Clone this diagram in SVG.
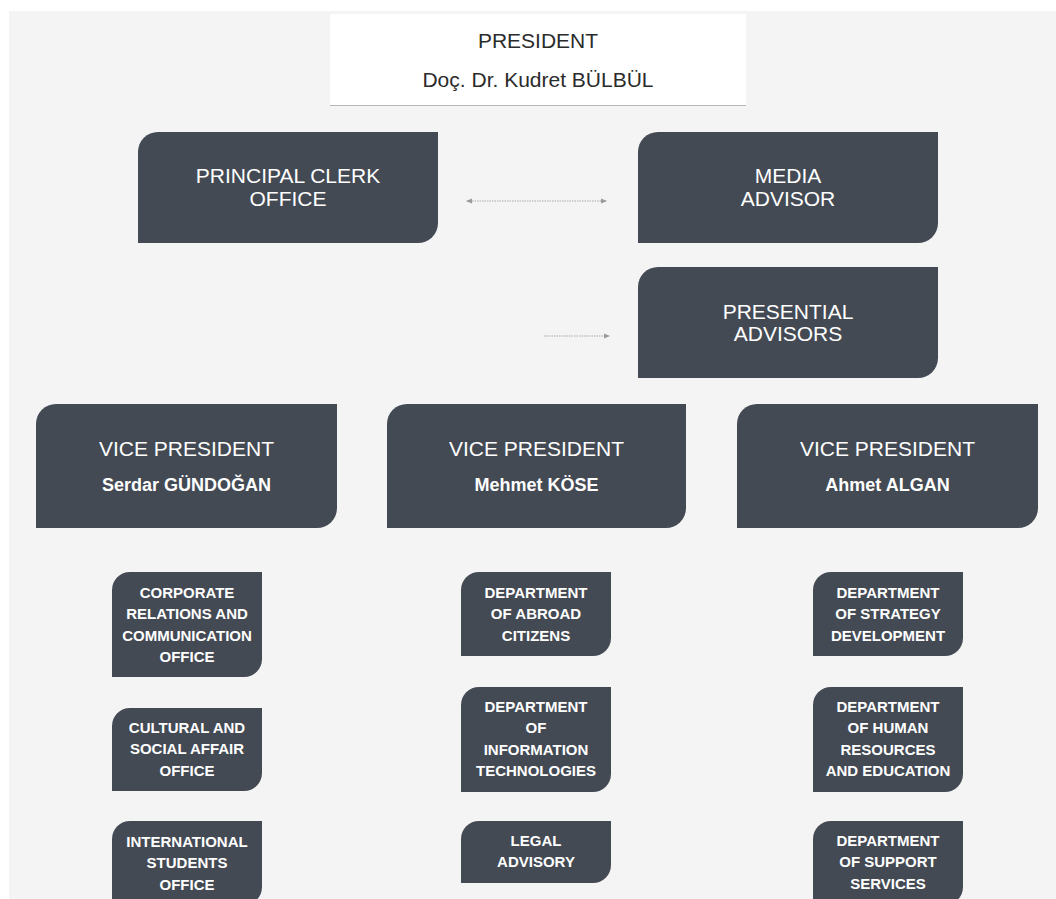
<svg xmlns="http://www.w3.org/2000/svg" width="1056" height="899" viewBox="0 0 1056 899">
<defs>
<marker id="ah" viewBox="0 0 6 6" refX="5" refY="3" markerWidth="6" markerHeight="6" markerUnits="userSpaceOnUse" orient="auto-start-reverse">
<path d="M0,0.5 L6,3 L0,5.5 Z" fill="#9a9a9a"/>
</marker>
<filter id="sh" x="-5%" y="-5%" width="110%" height="120%">
<feDropShadow dx="0" dy="1" stdDeviation="0.6" flood-color="#000" flood-opacity="0.25"/>
</filter>
</defs>
<style>
.box{fill:#434a54}
.big{font-family:"Liberation Sans",Arial,sans-serif;font-size:21px;fill:#ffffff;text-anchor:middle}
.name{font-family:"Liberation Sans",Arial,sans-serif;font-size:18px;font-weight:bold;fill:#ffffff;text-anchor:middle}
.sm{font-family:"Liberation Sans",Arial,sans-serif;font-size:15px;font-weight:bold;fill:#ffffff;text-anchor:middle}
.pres{font-family:"Liberation Sans",Arial,sans-serif;font-size:21px;fill:#2b2b2b;text-anchor:middle}
.conn{stroke:#a8a8a8;stroke-width:1.2;stroke-dasharray:1.5 1;fill:none}
</style>
<rect x="0" y="0" width="1056" height="899" fill="#ffffff"/>
<rect x="9" y="11" width="1047" height="888" fill="#f4f4f4"/>

<g id="president">
<rect x="330" y="14" width="416" height="91" fill="#ffffff" filter="url(#sh)"/>
<text class="pres" x="538" y="48">PRESIDENT</text>
<text class="pres" x="538" y="87">Doç. Dr. Kudret BÜLBÜL</text>
</g>

<g id="connectors">
<line class="conn" x1="467" y1="201" x2="606" y2="201" marker-start="url(#ah)" marker-end="url(#ah)"/>
<line class="conn" x1="544" y1="336" x2="609" y2="336" marker-end="url(#ah)"/>
</g>

<g id="principal-clerk">
<path class="box" d="M158,132 H438 V223 A20,20 0 0 1 418,243 H138 V152 A20,20 0 0 1 158,132 Z"/>
<text class="big" x="288" y="183">PRINCIPAL CLERK</text>
<text class="big" x="288" y="206">OFFICE</text>
</g>

<g id="media-advisor">
<path class="box" d="M658,132 H938 V223 A20,20 0 0 1 918,243 H638 V152 A20,20 0 0 1 658,132 Z"/>
<text class="big" x="788" y="183">MEDIA</text>
<text class="big" x="788" y="206">ADVISOR</text>
</g>

<g id="presential-advisors">
<path class="box" d="M658,267 H938 V358 A20,20 0 0 1 918,378 H638 V287 A20,20 0 0 1 658,267 Z"/>
<text class="big" x="788" y="319">PRESENTIAL</text>
<text class="big" x="788" y="341">ADVISORS</text>
</g>

<g id="vp-1">
<path class="box" d="M56,404 H337 V508 A20,20 0 0 1 317,528 H36 V424 A20,20 0 0 1 56,404 Z"/>
<text class="big" x="186.5" y="456">VICE PRESIDENT</text>
<text class="name" x="186.5" y="491">Serdar GÜNDOĞAN</text>
</g>

<g id="vp-2">
<path class="box" d="M407,404 H686 V508 A20,20 0 0 1 666,528 H387 V424 A20,20 0 0 1 407,404 Z"/>
<text class="big" x="536.5" y="456">VICE PRESIDENT</text>
<text class="name" x="536.5" y="491">Mehmet KÖSE</text>
</g>

<g id="vp-3">
<path class="box" d="M757,404 H1038 V508 A20,20 0 0 1 1018,528 H737 V424 A20,20 0 0 1 757,404 Z"/>
<text class="big" x="887.5" y="456">VICE PRESIDENT</text>
<text class="name" x="887.5" y="491">Ahmet ALGAN</text>
</g>

<g id="corporate-relations">
<path class="box" d="M130,572 H262 V659 A18,18 0 0 1 244,677 H112 V590 A18,18 0 0 1 130,572 Z"/>
<text class="sm" x="187" y="598">CORPORATE</text>
<text class="sm" x="187" y="619.3">RELATIONS AND</text>
<text class="sm" x="187" y="640.6">COMMUNICATION</text>
<text class="sm" x="187" y="662">OFFICE</text>
</g>

<g id="cultural-social">
<path class="box" d="M130,708 H262 V773 A18,18 0 0 1 244,791 H112 V726 A18,18 0 0 1 130,708 Z"/>
<text class="sm" x="187" y="733">CULTURAL AND</text>
<text class="sm" x="187" y="754.3">SOCIAL AFFAIR</text>
<text class="sm" x="187" y="775.6">OFFICE</text>
</g>

<g id="international-students">
<path class="box" d="M130,821 H262 V887 A18,18 0 0 1 244,905 H112 V839 A18,18 0 0 1 130,821 Z"/>
<text class="sm" x="187" y="847">INTERNATIONAL</text>
<text class="sm" x="187" y="868.3">STUDENTS</text>
<text class="sm" x="187" y="889.6">OFFICE</text>
</g>

<g id="abroad-citizens">
<path class="box" d="M479,572 H611 V638 A18,18 0 0 1 593,656 H461 V590 A18,18 0 0 1 479,572 Z"/>
<text class="sm" x="536" y="598">DEPARTMENT</text>
<text class="sm" x="536" y="619.3">OF ABROAD</text>
<text class="sm" x="536" y="640.6">CITIZENS</text>
</g>

<g id="information-technologies">
<path class="box" d="M479,687 H611 V774 A18,18 0 0 1 593,792 H461 V705 A18,18 0 0 1 479,687 Z"/>
<text class="sm" x="536" y="712">DEPARTMENT</text>
<text class="sm" x="536" y="733.3">OF</text>
<text class="sm" x="536" y="754.6">INFORMATION</text>
<text class="sm" x="536" y="776">TECHNOLOGIES</text>
</g>

<g id="legal-advisory">
<path class="box" d="M479,821 H611 V865 A18,18 0 0 1 593,883 H461 V839 A18,18 0 0 1 479,821 Z"/>
<text class="sm" x="536" y="846">LEGAL</text>
<text class="sm" x="536" y="867.3">ADVISORY</text>
</g>

<g id="strategy-development">
<path class="box" d="M831,572 H963 V638 A18,18 0 0 1 945,656 H813 V590 A18,18 0 0 1 831,572 Z"/>
<text class="sm" x="888" y="598">DEPARTMENT</text>
<text class="sm" x="888" y="619.3">OF STRATEGY</text>
<text class="sm" x="888" y="640.6">DEVELOPMENT</text>
</g>

<g id="human-resources">
<path class="box" d="M831,687 H963 V774 A18,18 0 0 1 945,792 H813 V705 A18,18 0 0 1 831,687 Z"/>
<text class="sm" x="888" y="712">DEPARTMENT</text>
<text class="sm" x="888" y="733.3">OF HUMAN</text>
<text class="sm" x="888" y="754.6">RESOURCES</text>
<text class="sm" x="888" y="776">AND EDUCATION</text>
</g>

<g id="support-services">
<path class="box" d="M831,821 H963 V887 A18,18 0 0 1 945,905 H813 V839 A18,18 0 0 1 831,821 Z"/>
<text class="sm" x="888" y="846">DEPARTMENT</text>
<text class="sm" x="888" y="867.3">OF SUPPORT</text>
<text class="sm" x="888" y="888.6">SERVICES</text>
</g>
</svg>
